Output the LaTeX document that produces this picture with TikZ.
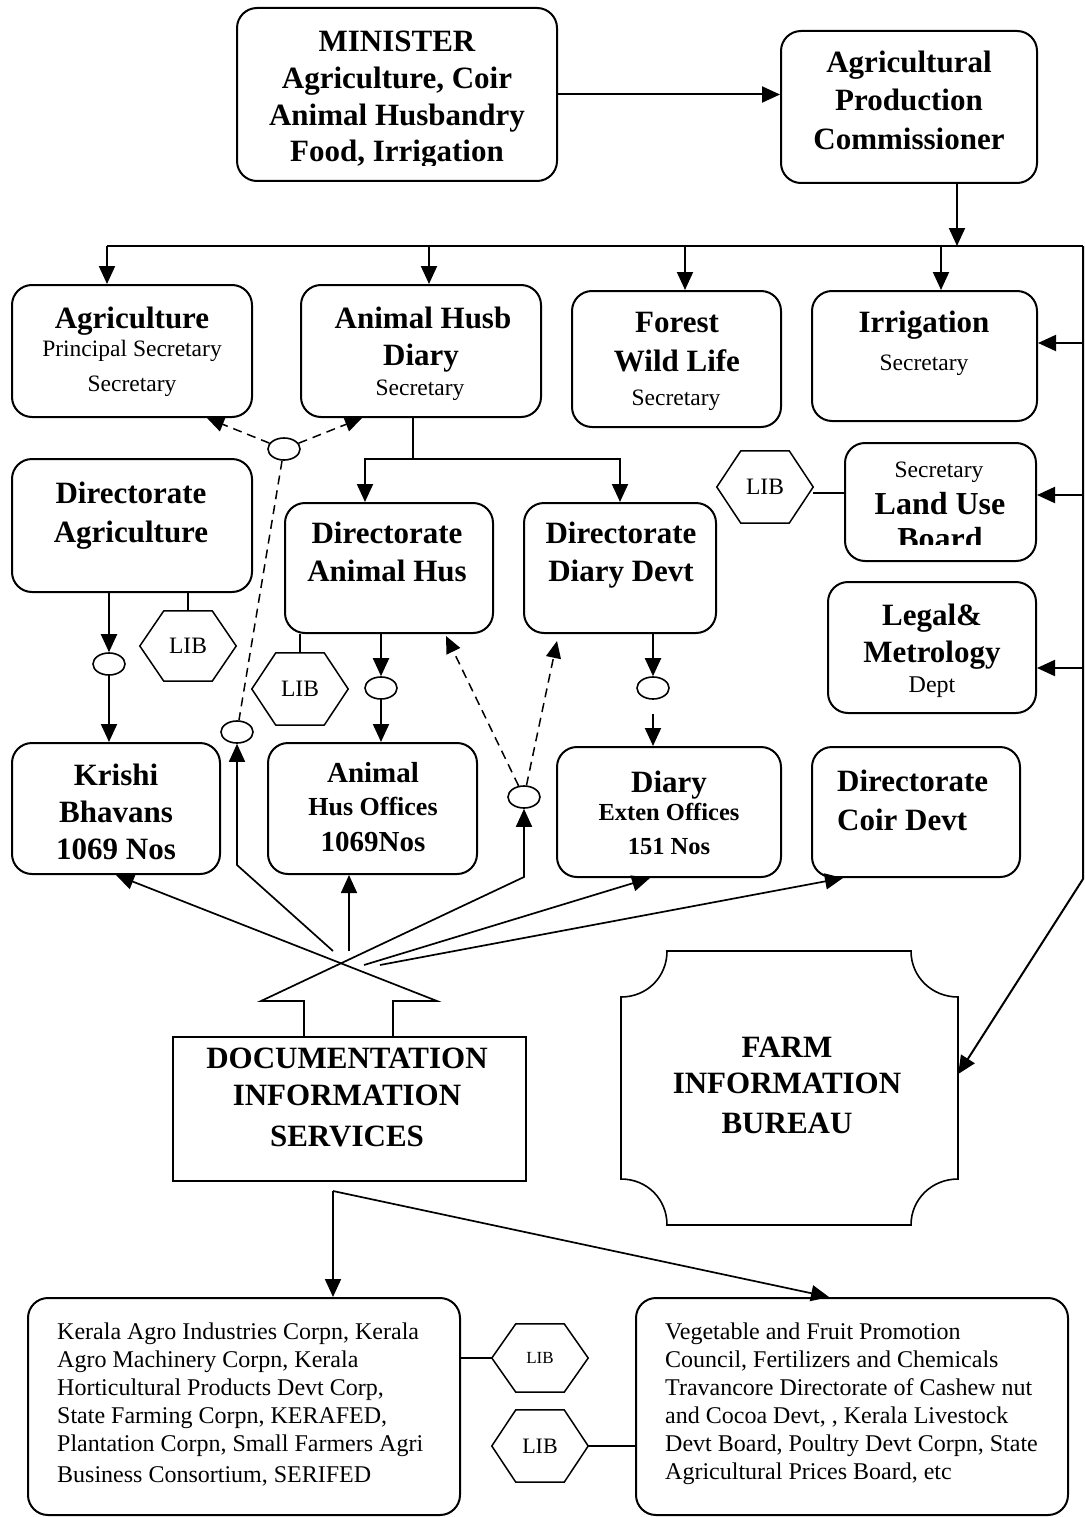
\documentclass[tikz,border=0pt]{standalone}
\usepackage{fontspec}
\setmainfont{Liberation Serif}
\usetikzlibrary{arrows.meta,shapes.geometric}
\newcommand{\hexdraw}[1]{\draw[hexline] (#1.west) -- ([xshift=24pt]#1.north west) -- ([xshift=-24pt]#1.north east) -- (#1.east) -- ([xshift=-24pt]#1.south east) -- ([xshift=24pt]#1.south west) -- cycle;}
\begin{document}
\begin{tikzpicture}[x=1pt,y=-1pt,
  box/.style={draw, line width=2pt, rounded corners=20pt, inner sep=0pt},
  sbox/.style={draw, line width=1.6pt, inner sep=0pt},
  ell/.style={draw, ellipse, line width=1.6pt, minimum width=32pt, minimum height=22pt, inner sep=0pt},
  hexn/.style={inner sep=0pt, minimum width=96pt, minimum height=70pt, font=\fontsize{23.5}{28}\selectfont},
  hexline/.style={line width=1.5pt},
  T/.style={font=\fontsize{31}{36}\selectfont\bfseries, inner sep=0pt, anchor=base},
  S/.style={font=\fontsize{23.5}{28}\selectfont, inner sep=0pt, anchor=base},
  B/.style={font=\fontsize{24}{28}\selectfont, inner sep=0pt, anchor=base west},
  arr/.style={line width=2pt, -{Triangle[length=18pt,width=16pt]}},
  ln/.style={line width=1.8pt},
  hl/.style={line width=1.6pt},
  harr/.style={line width=1.7pt, -{Triangle[length=18pt,width=16pt]}},
  dsh/.style={line width=1.5pt, dash pattern=on 9pt off 6pt},
  darr/.style={dsh, -{Triangle[length=17pt,width=15pt]}}
]
\fill[white] (0,0) rectangle (1084,1517);
\useasboundingbox (0,0) rectangle (1084,1517);

% ---------- boxes ----------
\node[box, minimum width=320pt, minimum height=173pt] (min) at (397,94.5) {};
\node[box, minimum width=256pt, minimum height=152pt] (apc) at (909,107) {};
\node[box, minimum width=240pt, minimum height=132pt] (agri) at (132,351) {};
\node[box, minimum width=240pt, minimum height=132pt] (ahd) at (421,351) {};
\node[box, minimum width=209pt, minimum height=136pt] (forest) at (676.5,359) {};
\node[box, minimum width=225pt, minimum height=130pt] (irr) at (924.5,356) {};
\node[box, minimum width=240pt, minimum height=133pt] (dagri) at (132,525.5) {};
\node[box, minimum width=208pt, minimum height=130pt] (danim) at (389,568) {};
\node[box, minimum width=192pt, minimum height=130pt] (ddiary) at (620,568) {};
\node[box, minimum width=191pt, minimum height=118pt] (lu) at (940.5,502) {};
\node[box, minimum width=208pt, minimum height=131pt] (legal) at (932,647.5) {};
\node[box, minimum width=208pt, minimum height=131pt] (krishi) at (116,808.5) {};
\node[box, minimum width=209pt, minimum height=131pt] (aho) at (372.5,808.5) {};
\node[box, minimum width=224pt, minimum height=130pt] (dex) at (669,812) {};
\node[box, minimum width=208pt, minimum height=130pt] (coir) at (916,812) {};
\node[box, minimum width=432pt, minimum height=217pt] (kbox) at (244,1406.5) {};
\node[box, minimum width=432pt, minimum height=217pt] (vbox) at (852,1406.5) {};
\node[sbox, minimum width=353pt, minimum height=144pt] (dis) at (349.5,1109) {};
\node[inner sep=0pt, minimum width=337pt, minimum height=274pt] (fib) at (789.5,1088) {};
\draw[hl] (667,951) -- (911,951) .. controls (911,977) and (932,997) .. (958,997)
  -- (958,1179) .. controls (932,1179) and (911,1199) .. (911,1225)
  -- (667,1225) .. controls (667,1199) and (647,1179) .. (621,1179)
  -- (621,997) .. controls (647,997) and (667,977) .. (667,951) -- cycle;

% ---------- ellipses ----------
\node[ell] (e1) at (284,449) {};
\node[ell] (eDA) at (109,664) {};
\node[ell] (e2) at (237,732) {};
\node[ell] (eAH) at (381,688) {};
\node[ell] (e3) at (524,797) {};
\node[ell] (eDD) at (653,688) {};

% ---------- hexagons ----------
\node[hexn] (hA) at (188,646) {LIB}; \hexdraw{hA}
\node[hexn, minimum height=72pt] (hB) at (300,689) {LIB}; \hexdraw{hB}
\node[hexn, minimum height=72pt] (hLU) at (765,487) {LIB}; \hexdraw{hLU}
\node[hexn, minimum height=68pt, font=\fontsize{17}{20}\selectfont] (hK1) at (540,1358) {LIB}; \hexdraw{hK1}
\node[hexn, minimum height=72pt, font=\fontsize{22}{26}\selectfont] (hK2) at (540,1446) {LIB}; \hexdraw{hK2}

% ---------- texts ----------
\node[T] (tm1) at (397,52) {MINISTER};
\node[T] (tm2) at (397,89) {Agriculture, Coir};
\node[T] (tm3) at (397,126) {Animal Husbandry};
\begin{scope}
\clip (240,128) rectangle (555,166);
\node[T] (tm4) at (397,162) {Food, Irrigation};
\end{scope}
\node[T] (ta1) at (909,73) {Agricultural};
\node[T] (ta2) at (909,111) {Production};
\node[T] (ta3) at (909,150) {Commissioner};

\node[T] (tg1) at (132,328) {Agriculture};
\node[S] (tg2) at (132,356) {Principal Secretary};
\node[S] (tg3) at (132,391) {Secretary};
\node[T] (th1) at (423,328) {Animal Husb};
\node[T] (th2) at (421,365) {Diary};
\node[S] (th3) at (420,395) {Secretary};
\node[T] (tf1) at (677,332) {Forest};
\node[T] (tf2) at (677,371) {Wild Life};
\node[S] (tf3) at (676,405) {Secretary};
\node[T] (ti1) at (924,332) {Irrigation};
\node[S] (ti2) at (924,370) {Secretary};

\node[T] (tda1) at (131,503) {Directorate};
\node[T] (tda2) at (131,542) {Agriculture};
\node[T] (tdh1) at (387,543) {Directorate};
\node[T] (tdh2) at (387,581) {Animal Hus};
\node[T] (tdd1) at (621,543) {Directorate};
\node[T] (tdd2) at (621,581) {Diary Devt};

\node[S] (tl1) at (939,477) {Secretary};
\node[T, font=\fontsize{32}{36}\selectfont\bfseries] (tl2) at (940,514) {Land Use};
\begin{scope}
\clip (850,525) rectangle (1030,544);
\node[T, font=\fontsize{32}{36}\selectfont\bfseries] (tl3) at (940,549) {Board};
\end{scope}
\node[T] (tg4) at (932,625) {Legal\&};
\node[T] (tg5) at (932,662) {Metrology};
\node[S, font=\fontsize{24}{28}\selectfont] (tg6) at (932,692) {Dept};

\node[T] (tk1) at (116,785) {Krishi};
\node[T] (tk2) at (116,822) {Bhavans};
\node[T] (tk3) at (116,859) {1069 Nos};
\node[T, font=\fontsize{29}{34}\selectfont\bfseries] (to1) at (373,782) {Animal};
\node[T, font=\fontsize{26}{30}\selectfont\bfseries] (to2) at (373,815) {Hus Offices};
\node[T, font=\fontsize{29}{34}\selectfont\bfseries] (to3) at (373,851) {1069Nos};
\node[T] (tx1) at (669,792) {Diary};
\node[T, font=\fontsize{24.5}{28}\selectfont\bfseries] (tx2) at (669,820) {Exten Offices};
\node[T, font=\fontsize{24.5}{28}\selectfont\bfseries] (tx3) at (669,854) {151 Nos};
\node[T, anchor=base west] (tc1) at (837,791) {Directorate};
\node[T, anchor=base west] (tc2) at (837,830) {Coir Devt};

\node[T] (td1) at (347,1068) {DOCUMENTATION};
\node[T] (td2) at (347,1105) {INFORMATION};
\node[T] (td3) at (347,1146) {SERVICES};
\node[T] (tb1) at (787,1057) {FARM};
\node[T] (tb2) at (787,1093) {INFORMATION};
\node[T] (tb3) at (787,1133) {BUREAU};

\node[B] (kl1) at (57,1339) {Kerala Agro Industries Corpn, Kerala};
\node[B] (kl2) at (57,1367) {Agro Machinery Corpn, Kerala};
\node[B] (kl3) at (57,1395) {Horticultural Products Devt Corp,};
\node[B] (kl4) at (57,1423) {State Farming Corpn, KERAFED,};
\node[B] (kl5) at (57,1451) {Plantation Corpn, Small Farmers Agri};
\node[B] (kl6) at (57,1482) {Business Consortium, SERIFED};
\node[B] (vl1) at (665,1339) {Vegetable and Fruit Promotion};
\node[B] (vl2) at (665,1367) {Council, Fertilizers and Chemicals};
\node[B] (vl3) at (665,1395) {Travancore Directorate of Cashew nut};
\node[B] (vl4) at (665,1423) {and Cocoa Devt, , Kerala Livestock};
\node[B] (vl5) at (665,1451) {Devt Board, Poultry Devt Corpn, State};
\node[B] (vl6) at (665,1479) {Agricultural Prices Board, etc};

% ---------- top connectors ----------
\draw[arr] (min.east) -- (min.east -| apc.west);
\coordinate (busL) at (107,246);
\coordinate (busR) at (1083,246);
\coordinate (busA) at (957,246);
\coordinate (d2) at (429,246);
\coordinate (d3) at (685,246);
\coordinate (d4) at (941,246);
\coordinate (rc) at (1083,879);
\draw[arr] ([xshift=48pt]apc.south) -- (busA);
\draw[line width=2.2pt] (busL) -- (busR);
\draw[arr] (busL) -- (busL |- agri.north);
\draw[arr] (d2) -- (d2 |- ahd.north);
\draw[arr] (d3) -- (d3 |- forest.north);
\draw[arr] (d4) -- (d4 |- irr.north);
\draw[arr] (busR) -- (rc) -- ([yshift=14pt]fib.east);
\coordinate (r1) at (1083,343);
\coordinate (r2) at (1083,495);
\coordinate (r3) at (1083,668);
\draw[arr] (r1) -- (r1 -| irr.east);
\draw[arr] (r2) -- (r2 -| lu.east);
\draw[arr] (r3) -- (r3 -| legal.east);
\draw[ln] ([yshift=-6pt]hLU.east) -- ([yshift=-6pt]hLU.east -| lu.west);

% ---------- middle connectors ----------
\coordinate (ahj) at (413,459);
\draw[ln] (ahd.south -| ahj) -- (ahj);
\draw[arr] (ahj) -| ([xshift=-24pt]danim.north);
\draw[arr] (ahj) -| (ddiary.north);

\draw[darr] (e1) -- ([xshift=75pt]agri.south);
\draw[darr] (e1) -- ([xshift=-59pt]ahd.south);
\draw[dsh] (e1) -- (e2);
\draw[darr] (e3) -- ([xshift=57pt,yshift=-2pt]danim.south);
\draw[darr] (e3) -- ([xshift=-63pt,yshift=-7pt]ddiary.south);

\draw[arr] (dagri.south -| eDA) -- (eDA);
\draw[arr] (eDA) -- (eDA |- krishi.north);
\draw[ln] (dagri.south -| hA) -- (hA.north);
\draw[arr] (danim.south -| eAH) -- (eAH);
\draw[arr] (eAH) -- (eAH |- aho.north);
\draw[ln] (danim.south -| hB) -- (hB.north);
\draw[arr] (ddiary.south -| eDD) -- (eDD);
\draw[arr] ([yshift=-14pt]eDD.south) -- (eDD |- dex.north);

% ---------- hub (documentation arrow) ----------
\coordinate (stemL) at (304,1037);
\coordinate (stemR) at (393,1037);
\coordinate (hubL) at (261,1001);
\coordinate (hubR) at (437,1001);
\coordinate (kneeR) at (524,877);
\coordinate (s3) at (333,951);
\coordinate (k2) at (237,865);
\coordinate (s4) at (349,951);
\coordinate (s5) at (364,965);
\coordinate (s6) at (380,965);
\draw[harr] (stemL) |- (hubL) -- (kneeR) -- (e3);
\draw[harr] (stemR) |- (hubR) -- (krishi.south);
\draw[harr] (s3) -- (k2) -- (e2);
\draw[harr] (s4) -- (s4 |- aho.south);
\draw[harr] (s5) -- ([xshift=-19pt]dex.south);
\draw[harr] (s6) -- ([xshift=-73pt]coir.south);

% ---------- bottom connectors ----------
\coordinate (dj) at (333,1191);
\draw[harr] (dj) -- (dj |- kbox.north);
\draw[harr] (dj) -- ([xshift=-23pt]vbox.north);
\draw[ln] (hK1.west) -- (hK1.west -| kbox.east);
\draw[ln] (hK2.east) -- (hK2.east -| vbox.west);
\end{tikzpicture}
\end{document}
